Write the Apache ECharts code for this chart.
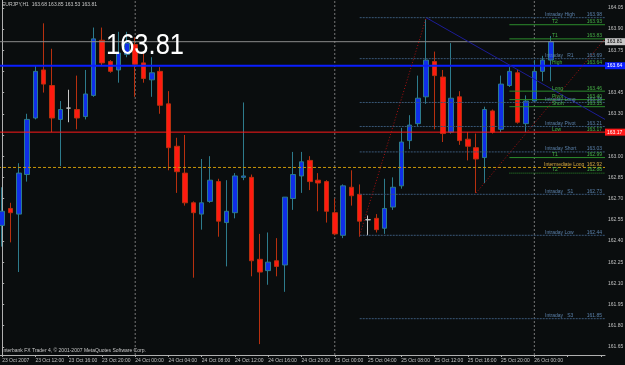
<!DOCTYPE html>
<html>
<head>
<meta charset="utf-8">
<title>EURJPY,H1</title>
<script src="https://cdn.jsdelivr.net/npm/echarts@6/dist/echarts.min.js"></script>
<style>
  html, body { margin: 0; padding: 0; background: #0a0d0e; }
  #chart { width: 625px; height: 365px; }
</style>
</head>
<body>
<div id="chart"></div>
<script>
// H1 bars, first bar 23 Oct 2007 08:00
const opens  = [162.51,162.63,162.59,162.87,163.27,163.61,163.50,163.26,163.34,163.33,163.28,163.43,163.82,163.67,163.61,163.72,
                163.79,163.66,163.54,163.60,163.37,163.07,162.88,162.67,162.59,162.68,162.82,162.53,162.60,162.85,162.85,162.27,
                162.19,162.26,162.23,162.70,162.86,162.97,162.83,162.82,162.60,162.44,162.78,162.73,162.55,162.56,162.49,162.64,
                162.79,163.11,163.23,163.42,163.67,163.56,163.17,163.42,163.12,163.06,162.99,163.32,163.19,163.50,163.59,163.23,
                163.39,163.60,163.68];
const highs  = [162.78,162.67,162.95,163.30,163.64,163.94,163.76,163.39,163.47,163.57,163.61,163.91,163.91,163.68,163.88,163.88,
                163.84,163.74,163.70,163.63,163.46,163.13,163.15,162.68,162.98,163.00,162.84,162.83,162.88,163.38,162.87,162.45,
                162.46,162.42,162.71,163.03,163.03,163.00,162.88,162.83,162.70,162.80,162.90,162.80,162.58,162.59,162.84,162.85,
                163.20,163.29,163.57,163.97,163.74,163.61,163.80,163.46,163.17,163.16,163.35,163.33,163.57,163.63,163.61,163.43,
                163.68,163.71,163.85];
const lows   = [162.36,162.39,162.18,162.82,163.26,163.45,163.17,162.93,163.24,163.19,163.26,163.42,163.64,163.59,163.52,163.70,
                163.42,163.52,163.42,163.30,162.90,162.74,162.65,162.14,162.48,162.67,162.43,162.22,162.56,162.83,162.15,161.67,
                162.09,162.15,162.04,162.62,162.74,162.76,162.61,162.53,162.44,162.42,162.65,162.43,162.44,162.46,162.45,162.62,
                162.77,163.05,163.21,163.37,163.19,163.10,163.16,163.08,162.97,162.74,162.81,163.16,163.17,163.49,163.23,163.17,
                163.39,163.53,163.53];
const closes = [162.61,162.60,162.88,163.26,163.60,163.51,163.27,163.33,163.34,163.27,163.44,163.83,163.66,163.60,163.73,163.80,
                163.65,163.55,163.59,163.36,163.06,162.89,162.67,162.60,162.67,162.83,162.54,162.61,162.86,162.86,162.26,162.18,
                162.25,162.22,162.71,162.87,162.96,162.82,162.81,162.61,162.45,162.79,162.72,162.54,162.55,162.48,162.63,162.78,
                163.10,163.22,163.41,163.68,163.57,163.16,163.41,163.11,163.07,162.98,163.33,163.17,163.51,163.60,163.24,163.39,
                163.60,163.68,163.81];

const priceTicks  = [164.05,163.90,163.75,163.60,163.45,163.30,163.15,163.00,162.85,162.70,162.55,162.40,162.25,162.10,161.95,161.80,161.65];
const priceLabels = [164.05,163.90,163.75,163.45,163.30,163.00,162.85,162.70,162.55,162.40,162.25,162.10,161.95,161.80,161.65];

// pivot indicator levels
const intradayNames  = ['Intraday High','Intraday   R1','Intraday Long','Intraday Pivot','Intraday Short','Intraday   S1','Intraday Low','Intraday   S3'];
const intradayLevels = [163.98,163.69,163.38,163.21,163.03,162.73,162.44,161.85];
const targetNames  = ['T2','T1','Long','Pivot','Short','T1','T2'];
const targetLevels = [163.93,163.83,163.46,163.40,163.35,162.99,162.88];
const bidPrice = 163.81;
const highLevel = 163.64;
const lowLevel = 163.17;
const intermediateLong = 162.92;
const intradayStartBar = 43;
const targetStartBar = 61;
const daySeparators = [16, 40, 64];
// trend lines: [bar, price] -> [bar, price]
const trendLines = [
  [[43, 162.44], [51, 163.98]],
  [[51, 163.98], [72.5, 163.26]],
  [[57, 162.74], [72.5, 163.83]]
];

const yMin = 161.593, yMax = 164.105;
const slots = 73;
const font = '"Liberation Sans", Arial, sans-serif';

// hourly categories
let cats = [];
let day = 23, hour = 8;
for (let i = 0; i < slots; i++) {
  cats.push(day + ' Oct ' + (hour < 10 ? '0' : '') + hour + ':00');
  hour++;
  if (hour === 24) { hour = 0; day++; }
}

let candleData = opens.map(function (o, i) {
  let item = { value: [o, closes[i], lows[i], highs[i]] };
  if (o === closes[i]) {
    item.itemStyle = { color: '#c8c8c8', color0: '#c8c8c8', borderColor: '#c8c8c8', borderColor0: '#c8c8c8' };
  }
  return item;
});

function line(p0, p1, style, z) {
  return {
    type: 'line', xAxisIndex: 1, yAxisIndex: 0,
    data: [p0, p1], symbol: 'none', silent: true, animation: false,
    lineStyle: style, z: z || 4
  };
}

let series = [{
  type: 'candlestick',
  xAxisIndex: 0, yAxisIndex: 0,
  data: candleData,
  barWidth: 5,
  itemStyle: {
    color: '#0f2fe8', color0: '#ff1a10',
    borderColor: '#2d7b8c', borderColor0: '#b8300f',
    borderWidth: 1
  },
  animation: false,
  z: 3
}];

// day separators and left border
daySeparators.concat([-0.35]).forEach(function (b) {
  series.push(line([b, yMin], [b, yMax], { color: '#777', width: 1, type: [2, 2] }, 2));
});
// full width lines
series.push(line([-0.5, intermediateLong], [72.5, intermediateLong], { color: '#c8960a', width: 1, type: [3, 2] }));
series.push(line([-0.5, lowLevel], [72.5, lowLevel], { color: '#ff1a1a', width: 1 }));
series.push(line([-0.5, bidPrice], [72.5, bidPrice], { color: '#8c8c8c', width: 1 }));
series.push(line([-0.5, highLevel], [72.5, highLevel], { color: '#0a1eff', width: 2 }));
// intraday levels
intradayLevels.forEach(function (v) {
  series.push(line([intradayStartBar, v], [72.5, v], { color: '#3a5878', width: 1, type: [2, 1] }));
});
targetLevels.forEach(function (v, i) {
  series.push(line([targetStartBar, v], [72.5, v], { color: '#2c8c2c', width: 1, type: i === 6 ? [1, 1] : 'solid' }));
});
// trend lines
series.push(line(trendLines[0][0], trendLines[0][1], { color: '#a81010', width: 1, type: [1, 2] }, 5));
series.push(line(trendLines[1][0], trendLines[1][1], { color: '#1c1c96', width: 1 }, 5));
series.push(line(trendLines[2][0], trendLines[2][1], { color: '#a81010', width: 1, type: [1, 2] }, 5));

let chart = echarts.init(document.getElementById('chart'));
chart.setOption({
  backgroundColor: '#0a0d0e',
  animation: false,
  grid: { left: -2, right: 20, top: 0, bottom: 10, outerBoundsMode: 'none' },
  xAxis: [{
    type: 'category',
    data: cats,
    boundaryGap: true,
    axisLine: { lineStyle: { color: '#b0b0b0', width: 1 } },
    axisTick: { show: true, interval: 3, alignWithLabel: true, length: 2, lineStyle: { color: '#b0b0b0' } },
    axisLabel: {
      interval: 3, align: 'left', margin: 3,
      color: '#c0c0c0', fontSize: 5, fontFamily: font,
      formatter: function (v, i) { return i === 0 ? '23 Oct 2007' : (i > 66 ? '' : v); }
    },
    splitLine: { show: false }
  }, {
    type: 'value', min: -0.5, max: 72.5, show: false
  }],
  yAxis: {
    type: 'value', position: 'right', min: yMin, max: yMax, scale: true,
    axisLine: { show: true, lineStyle: { color: '#b0b0b0', width: 1 } },
    axisTick: { show: true, length: 2, customValues: priceTicks, lineStyle: { color: '#b0b0b0' } },
    axisLabel: {
      customValues: priceLabels, margin: 3,
      color: '#c0c0c0', fontSize: 5, fontFamily: font,
      formatter: function (v) { return v.toFixed(2); }
    },
    splitLine: { show: false }
  },
  series: series
});

// texts placed through the price scale
const py = function (v) { return chart.convertToPixel({ yAxisIndex: 0 }, v); };
let g = [];
function txt(x, y, s, color, size, align, valign) {
  g.push({
    type: 'text', x: x, y: y, silent: true, z: 20,
    style: { text: s, fill: color, font: size + 'px ' + font, align: align || 'left', textAlign: align || 'left',
             verticalAlign: valign || 'bottom', textVerticalAlign: valign || 'bottom' }
  });
}
function levelLabel(nameX, v, name, color) {
  txt(nameX, py(v) - 0.5, name, color, 5);
  txt(602, py(v) - 0.5, v.toFixed(2), color, 5, 'right');
}
intradayLevels.forEach(function (v, i) { levelLabel(545, v, intradayNames[i], '#5a80aa'); });
targetLevels.forEach(function (v, i) { levelLabel(552, v, targetNames[i], '#46b046'); });
levelLabel(552, highLevel, 'High', '#46b046');
levelLabel(552, lowLevel, 'Low', '#46b046');
levelLabel(544, intermediateLong, 'Intermediate Long', '#d4a640');

function priceBox(v, bg, fg) {
  let y = py(v);
  g.push({ type: 'rect', silent: true, z: 21, shape: { x: 605, y: y - 3.5, width: 20, height: 7 }, style: { fill: bg } });
  txt(607, y, v.toFixed(2), fg, 5, 'left', 'middle');
  g[g.length - 1].z = 22;
}
priceBox(bidPrice, '#c8c8c8', '#000000');
priceBox(highLevel, '#0a1eff', '#ffffff');
priceBox(lowLevel, '#ff1a1a', '#ffffff');

txt(2, 2, 'EURJPY,H1  163.68 163.85 163.53 163.81', '#c8c8c8', 5, 'left', 'top');
txt(2, 353, 'Interbank FX Trader 4, \u00a9 2001-2007 MetaQuotes Software Corp.', '#c8c8c8', 5, 'left', 'bottom');
g.push({
  type: 'text', x: 106, y: 31, scaleX: 0.85, silent: true, z: 25,
  style: { text: '163.81', fill: '#ffffff', font: '30px ' + font, align: 'left', textAlign: 'left', verticalAlign: 'top', textVerticalAlign: 'top' }
});

chart.setOption({ graphic: g });
</script>
</body>
</html>
